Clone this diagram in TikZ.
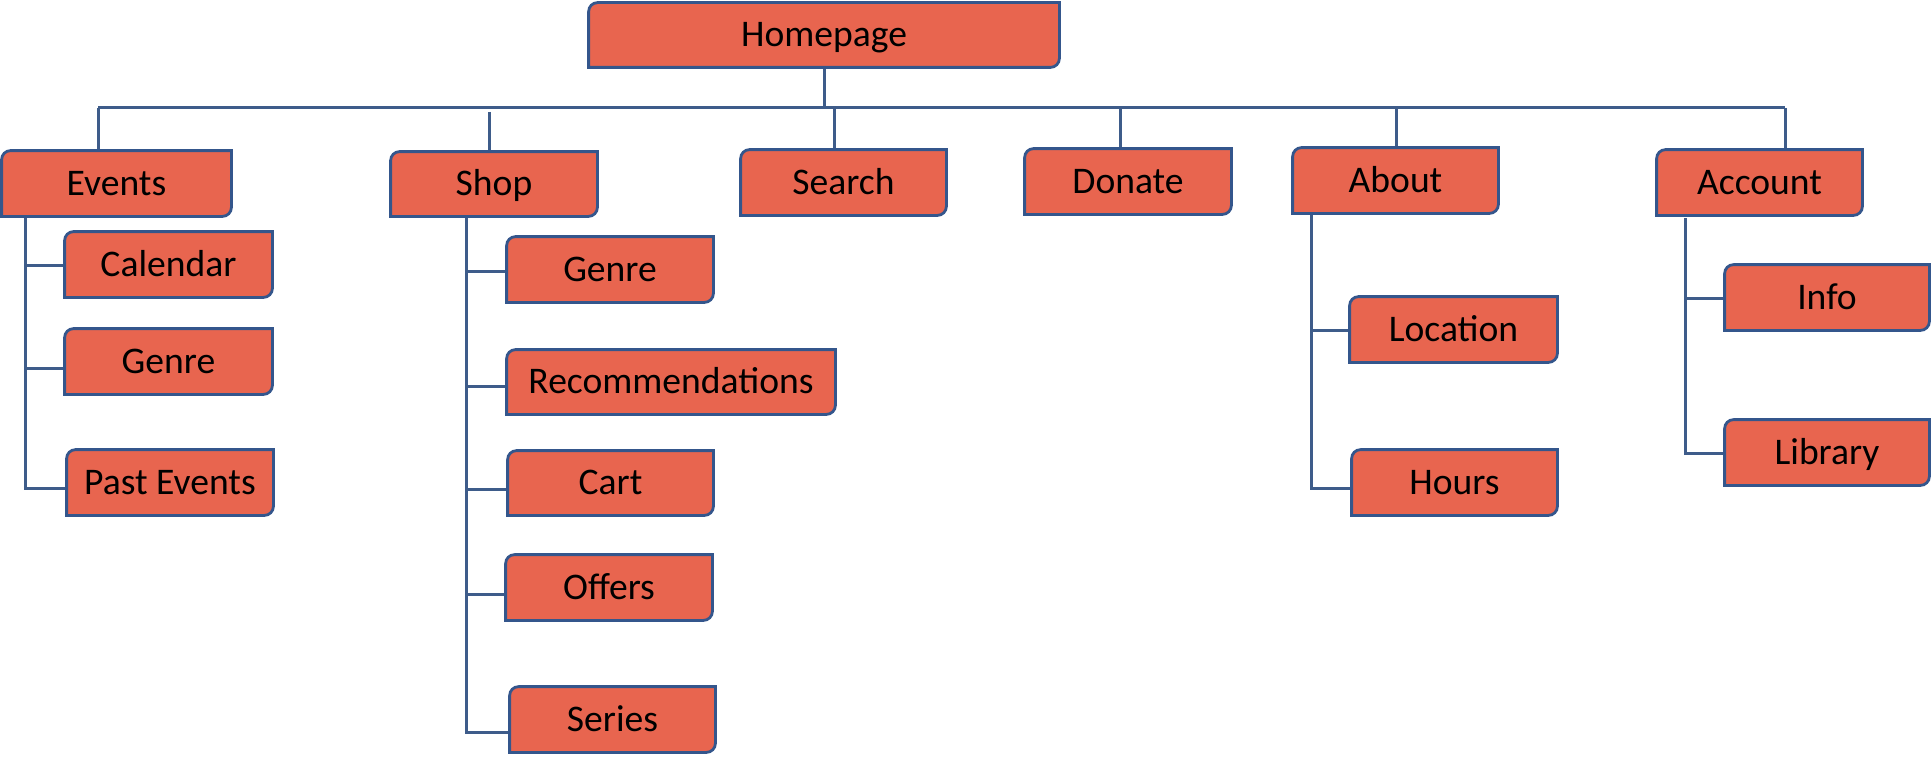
\documentclass[tikz,border=0pt]{standalone}
\usepackage{fontspec}
\setmainfont{Carlito}
\usetikzlibrary{backgrounds,calc}
\definecolor{boxfill}{HTML}{E8654F}
\definecolor{boxline}{HTML}{34568C}
\definecolor{conn}{HTML}{3E5C8A}
\tikzset{
  pagebox/.style={inner sep=0pt, text height=11.8pt, text depth=0pt, font=\fontsize{18.8pt}{20pt}\selectfont, text=black},
  boxshape/.style={fill=boxfill, draw=boxline, line width=1.4pt},
  link/.style={draw=conn, line width=1.5pt}
}
\newcommand{\pbox}[6]{\node[pagebox, minimum width={(#4-#2)*0.5pt}, minimum height={(#5-#3)*0.5pt}] (#1) at ({(#2+#4)/2},{(#3+#5)/2}) {#6};}
\newcommand{\rshape}[1]{%
  \path[boxshape] (#1.south west) -- ([yshift=-4.5pt]#1.north west) arc[start angle=180, end angle=90, radius=4.5pt]
    -- (#1.north east) -- ([yshift=4.5pt]#1.south east) arc[start angle=0, end angle=-90, radius=4.5pt] -- cycle;}
\begin{document}
\begin{tikzpicture}[x=0.5pt, y=-0.5pt]
\useasboundingbox (0,0) rectangle (1931,765);
% boxes
\pbox{home}{589}{3}{1059}{67}{Homepage}
\pbox{events}{2}{151}{231}{216}{Events}
\pbox{shop}{391}{152}{597}{216}{Shop}
\pbox{search}{741}{150}{946}{215}{Search}
\pbox{donate}{1025}{149}{1231}{214}{Donate}
\pbox{about}{1293}{148}{1498}{213}{About}
\pbox{account}{1657}{150}{1862}{215}{Account}
\pbox{calendar}{65}{232}{272}{297}{Calendar}
\pbox{egenre}{65}{329}{272}{394}{Genre}
\pbox{past}{67}{450}{273}{515}{Past Events}
\pbox{sgenre}{507}{237}{713}{302}{Genre}
\pbox{recs}{507}{350}{835}{414}{Recommendations}
\pbox{cart}{508}{451}{713}{515}{Cart}
\pbox{offers}{506}{555}{712}{620}{Offers}
\pbox{series}{510}{687}{715}{752}{Series}
\pbox{location}{1350}{297}{1557}{362}{Location}
\pbox{hours}{1352}{450}{1557}{515}{Hours}
\pbox{info}{1725}{265}{1929}{330}{Info}
\pbox{library}{1725}{420}{1929}{485}{Library}
% junction points
\coordinate (busL) at (98,108);
\coordinate (busR) at (1785,108);
\coordinate (bShop) at (489,112);
\coordinate (bSearch) at (834,108);
\coordinate (bDonate) at (1120,108);
\coordinate (bAbout) at (1396,108);
\coordinate (eA) at (25,265);
\coordinate (eB) at (25,368);
\coordinate (eC) at (25,488);
\coordinate (sA) at (466,271);
\coordinate (sB) at (466,386);
\coordinate (sC) at (466,489);
\coordinate (sD) at (466,594);
\coordinate (sE) at (466,732);
\coordinate (aA) at (1311,330);
\coordinate (aB) at (1311,488);
\coordinate (cTop) at (1685,218);
\coordinate (cA) at (1685,298);
\coordinate (cB) at (1685,453);
\begin{pgfonlayer}{background}
% connectors
\draw[link] (home.south) -- (home.south |- busL);
\draw[link] (busL) -- (busR);
\draw[link] (busL) -- (busL |- events.north);
\draw[link] (bShop) -- (bShop |- shop.north);
\draw[link] (bSearch) -- (bSearch |- search.north);
\draw[link] (bDonate) -- (bDonate |- donate.north);
\draw[link] (bAbout) -- (bAbout |- about.north);
\draw[link] (busR) -- (busR |- account.north);
% events branch
\draw[link] (eC |- events.south) -- (eC) -- (eC -| past.west);
\draw[link] (eA) -- (eA -| calendar.west);
\draw[link] (eB) -- (eB -| egenre.west);
% shop branch
\draw[link] (sE |- shop.south) -- (sE) -- (sE -| series.west);
\draw[link] (sA) -- (sA -| sgenre.west);
\draw[link] (sB) -- (sB -| recs.west);
\draw[link] (sC) -- (sC -| cart.west);
\draw[link] (sD) -- (sD -| offers.west);
% about branch
\draw[link] (aB |- about.south) -- (aB) -- (aB -| hours.west);
\draw[link] (aA) -- (aA -| location.west);
% account branch
\draw[link] (cTop) -- (cB) -- (cB -| library.west);
\draw[link] (cA) -- (cA -| info.west);
% box shapes
\foreach \n in {home,events,shop,search,donate,about,account,calendar,egenre,past,sgenre,recs,cart,offers,series,location,hours,info,library}{\rshape{\n}}
\end{pgfonlayer}
\end{tikzpicture}
\end{document}
